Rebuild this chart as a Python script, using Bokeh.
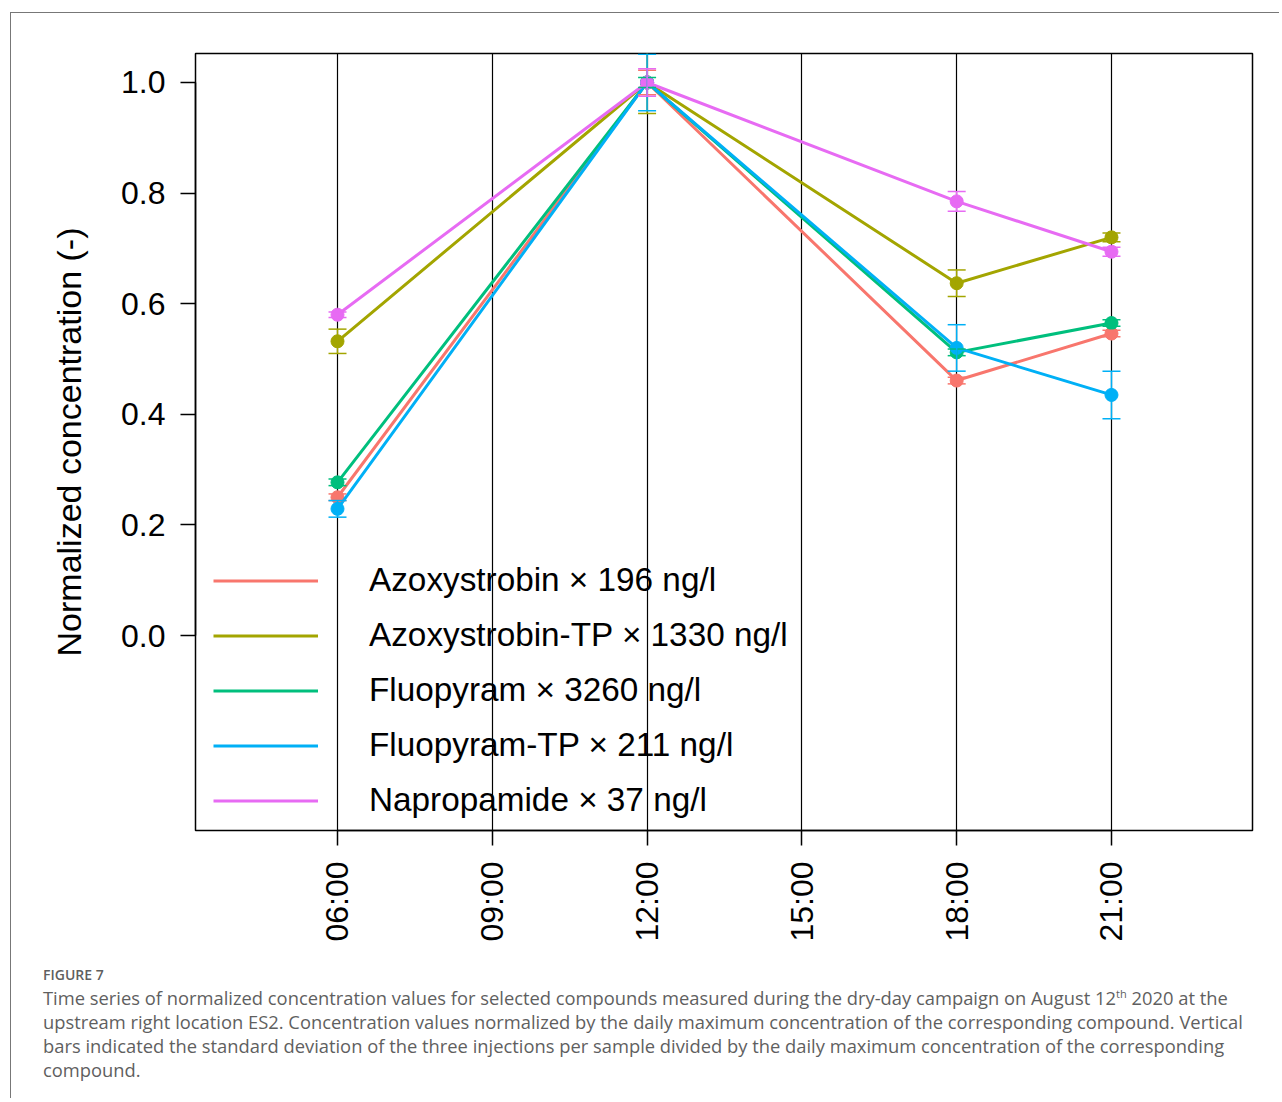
import math
from bokeh.plotting import figure
from bokeh.models import (Range1d, FixedTicker, Whisker, TeeHead, ColumnDataSource,
                          Legend, LegendItem, Div)
from bokeh.layouts import column
from bokeh.embed import file_html
from bokeh.resources import INLINE

# ---------------- data ----------------
sample_hours = [6, 12, 18, 21]
tick_hours = [6, 9, 12, 15, 18, 21]
tick_labels = ["06:00", "09:00", "12:00", "15:00", "18:00", "21:00"]
y_ticks = [0.0, 0.2, 0.4, 0.6, 0.8, 1.0]

series_names = [
    "Azoxystrobin \u00d7 196 ng/l",
    "Azoxystrobin-TP \u00d7 1330 ng/l",
    "Fluopyram \u00d7 3260 ng/l",
    "Fluopyram-TP \u00d7 211 ng/l",
    "Napropamide \u00d7 37 ng/l",
]
series_colors = ["#F8766D", "#A3A500", "#00BF7D", "#00B0F6", "#E76BF3"]

azoxystrobin = [0.250, 1.0, 0.461, 0.546]
azoxystrobin_sd = [0.006, 0.022, 0.006, 0.006]
azoxystrobin_tp = [0.532, 1.0, 0.637, 0.720]
azoxystrobin_tp_sd = [0.022, 0.056, 0.024, 0.008]
fluopyram = [0.277, 1.0, 0.512, 0.565]
fluopyram_sd = [0.006, 0.009, 0.006, 0.006]
fluopyram_tp = [0.229, 1.0, 0.520, 0.435]
fluopyram_tp_sd = [0.015, 0.051, 0.042, 0.043]
napropamide = [0.580, 1.0, 0.785, 0.694]
napropamide_sd = [0.005, 0.025, 0.018, 0.008]

series_values = [azoxystrobin, azoxystrobin_tp, fluopyram, fluopyram_tp, napropamide]
series_sd = [azoxystrobin_sd, azoxystrobin_tp_sd, fluopyram_sd, fluopyram_tp_sd, napropamide_sd]

y_label = "Normalized concentration (-)"
caption_head = "FIGURE 7"
caption_lines = [
    "Time series of normalized concentration values for selected compounds measured during the dry-day campaign on August 12<sup>th</sup> 2020 at the",
    "upstream right location ES2. Concentration values normalized by the daily maximum concentration of the corresponding compound. Vertical",
    "bars indicated the standard deviation of the three injections per sample divided by the daily maximum concentration of the corresponding",
    "compound.",
]

# ---------------- figure ----------------
FONT = "Liberation Sans"
p = figure(width=1258, height=947,
           x_range=Range1d(3.248, 23.733), y_range=Range1d(-0.3526, 1.0524),
           output_backend="svg", toolbar_location=None,
           min_border_left=184, min_border_right=17, min_border_top=40, min_border_bottom=130)
p.background_fill_color = "white"
p.border_fill_color = "white"
p.outline_line_color = "black"
p.outline_line_width = 1.5
p.outline_line_alpha = 1.0

# grid
p.xgrid.ticker = FixedTicker(ticks=tick_hours)
p.xgrid.grid_line_color = "black"
p.xgrid.grid_line_width = 1.2
p.xgrid.grid_line_alpha = 1.0
p.ygrid.grid_line_color = None

# x axis
xa = p.xaxis[0]
xa.ticker = FixedTicker(ticks=tick_hours)
xa.major_label_overrides = {h: l for h, l in zip(tick_hours, tick_labels)}
xa.major_label_orientation = math.pi / 2
xa.bounds = (tick_hours[0], tick_hours[-1])
xa.minor_tick_line_color = None
xa.major_tick_out = 15
xa.major_tick_in = 0
xa.major_tick_line_width = 1.5
xa.axis_line_width = 1.5
xa.major_label_text_font = FONT
xa.major_label_text_font_size = "32px"
xa.major_label_text_color = "black"
xa.major_label_standoff = 16

# y axis
ya = p.yaxis[0]
ya.ticker = FixedTicker(ticks=y_ticks)
ya.major_label_overrides = {t: f"{t:.1f}" for t in y_ticks}
ya.bounds = (y_ticks[0], y_ticks[-1])
ya.minor_tick_line_color = None
ya.major_tick_out = 15
ya.major_tick_in = 0
ya.major_tick_line_width = 1.5
ya.axis_line_width = 1.5
ya.major_label_text_font = FONT
ya.major_label_text_font_size = "32px"
ya.major_label_text_color = "black"
ya.major_label_standoff = 15
ya.axis_label = y_label
ya.axis_label_text_font = FONT
ya.axis_label_text_font_size = "34px"
ya.axis_label_text_font_style = "normal"
ya.axis_label_text_color = "black"
ya.axis_label_standoff = 30

# series
legend_items = []
for name, color, vals, sds in zip(series_names, series_colors, series_values, series_sd):
    src = ColumnDataSource(dict(
        x=sample_hours, y=vals,
        upper=[v + s for v, s in zip(vals, sds)],
        lower=[v - s for v, s in zip(vals, sds)],
    ))
    ln = p.line("x", "y", source=src, line_color=color, line_width=3)
    wk = Whisker(base="x", upper="upper", lower="lower", source=src,
                 line_color=color, line_width=1.5, level="glyph",
                 upper_head=TeeHead(size=18, line_color=color, line_width=1.5),
                 lower_head=TeeHead(size=18, line_color=color, line_width=1.5))
    p.add_layout(wk)
    p.scatter("x", "y", source=src, size=13, fill_color=color, line_color=color)
    legend_items.append(LegendItem(label=name, renderers=[ln]))

# location = bottom-left corner of the legend, in screen px from the frame's bottom-left
legend = Legend(items=legend_items, location=(18, 2.5),
                border_line_color=None, background_fill_alpha=0.0,
                glyph_width=105, glyph_height=55, label_height=55,
                spacing=0, padding=0, margin=0, label_standoff=51,
                label_text_font=FONT, label_text_font_size="33.3px",
                label_text_color="black")
p.add_layout(legend)

# caption
caption_html = (
    "<div style=\"font-family:'Open Sans';color:#5f5f5f;padding-left:27px;\">"
    f"<div style=\"font-size:14px;font-weight:600;line-height:18px;margin-top:1px;\">{caption_head}</div>"
    "<div style=\"font-size:18.35px;line-height:24px;margin-top:2px;white-space:nowrap;\">"
    + "<br>".join(l.replace("<sup>", "<sup style=\"font-size:11px;line-height:0;\">") for l in caption_lines)
    + "</div></div>"
)
cap = Div(text=caption_html, width=1258, height=128)

layout = column(p, cap, margin=(12, 0, 0, 10),
                styles={"border-left": "1px solid #777", "border-top": "1px solid #777"})

open("out.html", "w").write(file_html(layout, INLINE))
